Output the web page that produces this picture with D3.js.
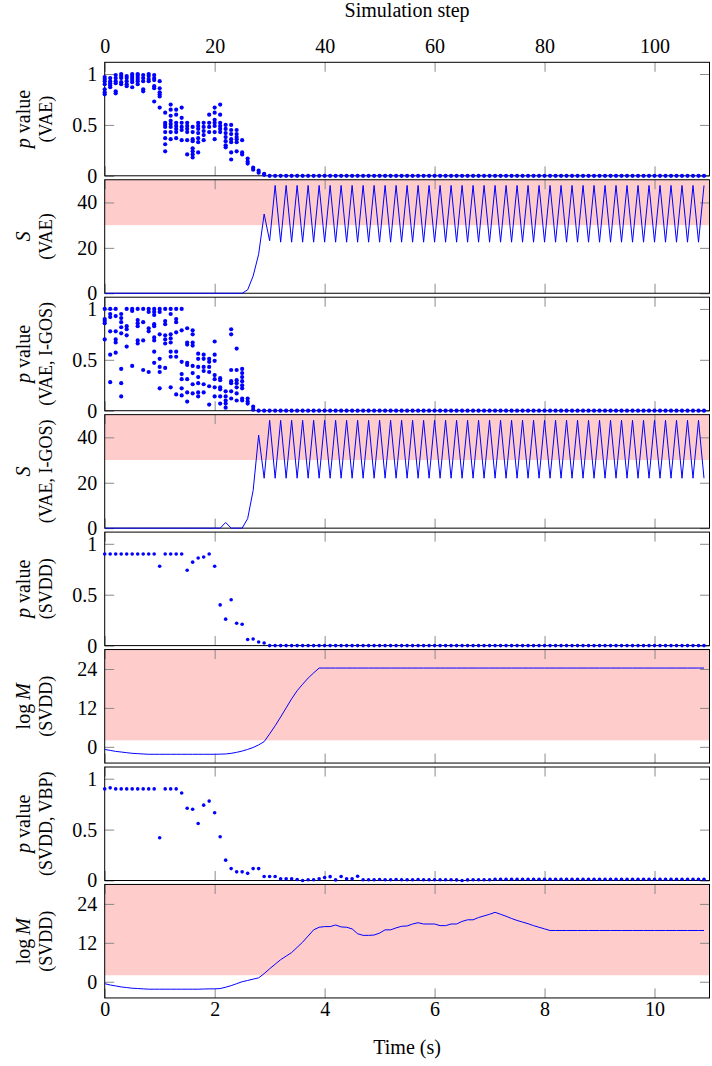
<!DOCTYPE html>
<html><head><meta charset="utf-8">
<script src="https://cdn.jsdelivr.net/npm/d3@7"></script>
<style>
body{margin:0;background:#fff}
svg{display:block}
text{font-family:"Liberation Serif","Times New Roman",serif;fill:#000}
</style>
</head><body>
<svg id="c" width="712" height="1066"></svg>
<script>
// ---------------- DATA ----------------
const stepTicks = [0, 20, 40, 60, 80, 100];
const timeTicks = [0, 2, 4, 6, 8, 10];
const pTicks = [0, 0.5, 1];
const sTicks = [0, 20, 40];
const mTicks = [0, 12, 24];

// p value (VAE): several samples per simulation step
const pVAE = [
 [0.97,0.95,0.93,0.90,0.85,0.82,0.80],[0.96,0.93,0.91,0.89,0.87],[0.99,0.96,0.93,0.91,0.83,0.81],
 [1.0,0.98,0.96,0.92,0.90],[0.98,0.96,0.93,0.90,0.88],[1.0,0.98,0.96,0.94,0.92,0.87],
 [1.0,0.99,0.97,0.95,0.93,0.90],[0.99,0.96,0.93,0.85,0.83],[1.0,0.98,0.95,0.93],
 [0.99,0.96,0.94,0.88,0.86,0.73],[0.93,0.86,0.82,0.80,0.78,0.67],
 [0.62,0.52,0.50,0.48,0.43,0.37,0.31,0.24],[0.70,0.65,0.59,0.54,0.51,0.48,0.43,0.36],
 [0.65,0.60,0.52,0.49,0.46,0.43,0.37],[0.67,0.57,0.52,0.48,0.45,0.35],
 [0.52,0.49,0.46,0.43,0.35,0.21],[0.48,0.43,0.36,0.34,0.27,0.24,0.21,0.18],
 [0.52,0.49,0.46,0.42,0.37,0.33,0.23],[0.52,0.48,0.44,0.40,0.35],[0.60,0.52,0.48,0.43],
 [0.67,0.62,0.55,0.52,0.49,0.43,0.36],[0.70,0.60,0.52,0.49,0.46,0.43],
 [0.50,0.46,0.42,0.38,0.34,0.30,0.28],[0.50,0.45,0.41,0.36,0.33,0.23,0.16],
 [0.45,0.41,0.38,0.36,0.33,0.24],[0.35,0.23,0.21],[0.17,0.14,0.12],[0.08,0.06],[0.05,0.03],[0.02,0.01],
 [0],[0],[0],[0],[0],[0],[0],[0],[0],[0],
 [0],[0],[0],[0],[0],[0],[0],[0],[0],[0],
 [0],[0],[0],[0],[0],[0],[0],[0],[0],[0],
 [0],[0],[0],[0],[0],[0],[0],[0],[0],[0],
 [0],[0],[0],[0],[0],[0],[0],[0],[0],[0],
 [0],[0],[0],[0],[0],[0],[0],[0],[0],[0],
 [0],[0],[0],[0],[0],[0],[0],[0],[0],[0],
 [0],[0],[0],[0],[0],[0],[0],[0],[0],[0]
];

// S (VAE)
const sVAE = [
 0,0,0,0,0,0,0,0,0,0,
 0,0,0,0,0,0,0,0,0,0,
 0,0,0,0,0,0,1.5,7.6,17.2,34.9,
 23.1,47.5,22.5,47.5,22.5,47.5,22.5,47.5,22.5,47.5,
 22.5,47.5,22.5,47.5,22.5,47.5,22.5,47.5,22.5,47.5,
 22.5,47.5,22.5,47.5,22.5,47.5,22.5,47.5,22.5,47.5,
 22.5,47.5,22.5,47.5,22.5,47.5,22.5,47.5,22.5,47.5,
 22.5,47.5,22.5,47.5,22.5,47.5,22.5,47.5,22.5,47.5,
 22.5,47.5,22.5,47.5,22.5,47.5,22.5,47.5,22.5,47.5,
 22.5,47.5,22.5,47.5,22.5,47.5,22.5,47.5,22.5,47.5,
 22.5,47.5,22.5,47.5,22.5,47.5,22.5,47.5,22.5,47.5
];

// p value (VAE, I-GOS)
const pVAEIGOS = [
 [1.0,0.90,0.88,0.86,0.70],[1.0,0.95,0.92,0.78,0.55,0.28],[1.0,0.93,0.78,0.70,0.67,0.57],
 [0.95,0.91,0.87,0.82,0.76,0.41,0.27,0.14],[1.0,0.83,0.80,0.74,0.63],[1.0,0.98,0.44],
 [1.0,0.89,0.86,0.83,0.69,0.66],[1.0,0.87,0.69,0.40],[1.0,0.97,0.81,0.78,0.38],
 [1.0,0.97,0.94,0.85,0.83,0.72,0.69,0.58,0.47],[1.0,0.97,0.75,0.51,0.43,0.38,0.22],
 [1.0,0.88,0.85,0.74,0.70,0.66,0.42],[1.0,0.95,0.75,0.71,0.67,0.58,0.53,0.23],
 [1.0,0.90,0.87,0.77,0.58,0.53,0.16],[1.0,0.79,0.48,0.36,0.31,0.22,0.15],
 [0.81,0.67,0.65,0.47,0.45,0.31,0.18,0.09],[0.79,0.75,0.67,0.64,0.44,0.37,0.26,0.17],
 [0.56,0.51,0.43,0.33,0.27,0.18,0.14],[0.55,0.51,0.43,0.39,0.26,0.18],
 [0.51,0.48,0.43,0.38,0.24,0.06],[0.68,0.55,0.49,0.35,0.31,0.23,0.14],
 [0.32,0.30,0.23,0.21,0.14,0.07],[0.19,0.14,0.10,0.07,0.03],
 [0.80,0.75,0.40,0.29,0.27,0.19,0.12],[0.61,0.40,0.30,0.27,0.23,0.17,0.10],
 [0.41,0.37,0.33,0.29,0.25,0.22,0.12,0.10],[0.12,0.09,0.07],[0.04,0.01],
 [0],[0],
 [0],[0],[0],[0],[0],[0],[0],[0],[0],[0],
 [0],[0],[0],[0],[0],[0],[0],[0],[0],[0],
 [0],[0],[0],[0],[0],[0],[0],[0],[0],[0],
 [0],[0],[0],[0],[0],[0],[0],[0],[0],[0],
 [0],[0],[0],[0],[0],[0],[0],[0],[0],[0],
 [0],[0],[0],[0],[0],[0],[0],[0],[0],[0],
 [0],[0],[0],[0],[0],[0],[0],[0],[0],[0],
 [0],[0],[0],[0],[0],[0],[0],[0],[0],[0]
];

// S (VAE, I-GOS)
const sVAEIGOS = [
 0,0,0,0,0,0,0,0,0,0,
 0,0,0,0,0,0,0,0,0,0,
 0,0,2.5,0,0,0,4.2,16.6,41,22,
 47.5,22,47.5,22,47.5,22,47.5,22,47.5,22,
 47.5,22,47.5,22,47.5,22,47.5,22,47.5,22,
 47.5,22,47.5,22,47.5,22,47.5,22,47.5,22,
 47.5,22,47.5,22,47.5,22,47.5,22,47.5,22,
 47.5,22,47.5,22,47.5,22,47.5,22,47.5,22,
 47.5,22,47.5,22,47.5,22,47.5,22,47.5,22,
 47.5,22,47.5,22,47.5,22,47.5,22,47.5,22,
 47.5,22,47.5,22,47.5,22,47.5,22,47.5,22
];

// p value (SVDD)
const pSVDD = [
 0.9,0.9,0.9,0.9,0.9,0.9,0.9,0.9,0.9,0.9,
 0.78,0.9,0.9,0.9,0.9,0.74,0.82,0.86,0.87,0.9,
 0.78,0.40,0.26,0.45,0.22,0.21,0.06,0.065,0.035,0.025,
 0,0,0,0,0,0,0,0,0,0,
 0,0,0,0,0,0,0,0,0,0,
 0,0,0,0,0,0,0,0,0,0,
 0,0,0,0,0,0,0,0,0,0,
 0,0,0,0,0,0,0,0,0,0,
 0,0,0,0,0,0,0,0,0,0,
 0,0,0,0,0,0,0,0,0,0,
 0,0,0,0,0,0,0,0,0,0
];

// log M (SVDD)
const logMSVDD = [
 -0.8,-1.1,-1.4,-1.6,-1.8,-2.0,-2.1,-2.2,-2.3,-2.3,
 -2.3,-2.3,-2.3,-2.3,-2.3,-2.3,-2.3,-2.3,-2.3,-2.3,
 -2.3,-2.25,-2.2,-2.0,-1.7,-1.3,-0.8,-0.2,0.6,1.6,
 4.0,6.5,9.2,12.0,14.8,17.3,19.3,21.2,22.8,24.3,
 24.3,24.3,24.3,24.3,24.3,24.3,24.3,24.3,24.3,24.3,
 24.3,24.3,24.3,24.3,24.3,24.3,24.3,24.3,24.3,24.3,
 24.3,24.3,24.3,24.3,24.3,24.3,24.3,24.3,24.3,24.3,
 24.3,24.3,24.3,24.3,24.3,24.3,24.3,24.3,24.3,24.3,
 24.3,24.3,24.3,24.3,24.3,24.3,24.3,24.3,24.3,24.3,
 24.3,24.3,24.3,24.3,24.3,24.3,24.3,24.3,24.3,24.3,
 24.3,24.3,24.3,24.3,24.3,24.3,24.3,24.3,24.3,24.3
];

// p value (SVDD, VBP)
const pVBP = [
 0.9,0.91,0.9,0.9,0.9,0.9,0.9,0.9,0.9,0.9,
 0.42,0.9,0.9,0.9,0.86,0.71,0.70,0.56,0.74,0.78,
 0.665,0.43,0.2,0.117,0.085,0.085,0.07,0.117,0.117,0.04,
 0.04,0.04,0.016,0.016,0.016,0.01,0,0.008,0.008,0.016,
 0.03,0.038,0.006,0.04,0.016,0.016,0.042,0.008,0.008,0.008,
 0.01,0.008,0.008,0.01,0.008,0.008,0.008,0.01,0.008,0.008,
 0.008,0.008,0.008,0.008,0.006,0,0.006,0.008,0.008,0.008,
 0.008,0.012,0.012,0.012,0.012,0.012,0.012,0.012,0.012,0.012,
 0.012,0.012,0.012,0.012,0.012,0.012,0.012,0.012,0.012,0.012,
 0.012,0.012,0.012,0.012,0.012,0.012,0.012,0.012,0.012,0.012,
 0.012,0.012,0.012,0.012,0.012,0.012,0.012,0.012,0.012,0.012
];

// log M (SVDD) for the VBP run
const logMVBP = [
 -0.6,-1.0,-1.3,-1.6,-1.8,-2.0,-2.1,-2.2,-2.3,-2.3,
 -2.3,-2.3,-2.3,-2.3,-2.3,-2.3,-2.3,-2.3,-2.25,-2.2,
 -2.2,-2.1,-1.7,-1.2,-0.6,0.0,0.4,0.8,1.2,2.5,
 4.0,5.4,6.8,7.9,9.0,10.6,12.2,14.1,16.0,16.8,
 17.0,17.0,17.5,16.9,16.8,16.3,14.8,14.3,14.3,14.4,
 15.0,16.0,16.0,16.6,17.1,17.2,17.8,18.2,17.8,17.8,
 17.8,17.3,17.3,17.8,17.8,18.6,19.1,19.1,19.8,20.3,
 20.8,21.4,20.8,20.2,19.5,18.9,18.4,17.9,17.3,16.8,
 16.3,15.8,15.8,15.8,15.8,15.8,15.8,15.8,15.8,15.8,
 15.8,15.8,15.8,15.8,15.8,15.8,15.8,15.8,15.8,15.8,
 15.8,15.8,15.8,15.8,15.8,15.8,15.8,15.8,15.8,15.8
];

// ---------------- DRAW ----------------
const BLUE = "#0000ff", PINK = "#ffcccc", TICK = "#8a8a8a";
const X0 = 104.7, X1 = 709.5;
const TOP0 = 62.3, STEP = 117.45, H = 113.5;

const svg = d3.select("#c");
const x = d3.scaleLinear().domain([0, 110]).range([X0, X1]);
const xt = d3.scaleLinear().domain([0, 11]).range([X0, X1]);
const fmt = d3.format("~g");

const panels = [
  {kind: "scatter", data: pVAE, dom: [0, 1.115], ticks: pTicks, l1: [["p", true], [" value", false]], l2: "(VAE)"},
  {kind: "line", data: sVAE, dom: [0, 50], ticks: sTicks, band: [30, 50], l1: [["S", true]], l2: "(VAE)"},
  {kind: "scatter", data: pVAEIGOS, dom: [0, 1.115], ticks: pTicks, l1: [["p", true], [" value", false]], l2: "(VAE, I-GOS)"},
  {kind: "line", data: sVAEIGOS, dom: [0, 50], ticks: sTicks, band: [30, 50], l1: [["S", true]], l2: "(VAE, I-GOS)"},
  {kind: "dots", data: pSVDD, dom: [0, 1.115], ticks: pTicks, l1: [["p", true], [" value", false]], l2: "(SVDD)"},
  {kind: "line", data: logMSVDD, dom: [-5, 30], ticks: mTicks, band: [2, 30], l1: [["log\u2009", false], ["M", true]], l2: "(SVDD)"},
  {kind: "dots", data: pVBP, dom: [0, 1.115], ticks: pTicks, l1: [["p", true], [" value", false]], l2: "(SVDD, VBP)"},
  {kind: "line", data: logMVBP, dom: [-5, 30], ticks: mTicks, band: [2, 30], l1: [["log\u2009", false], ["M", true]], l2: "(SVDD)"}
];

function styleAxis(sel, fs) {
  sel.attr("font-family", null).attr("font-size", null);
  sel.select(".domain").remove();
  sel.selectAll(".tick line").attr("stroke", TICK).attr("stroke-width", 1);
  sel.selectAll(".tick text").attr("fill", "#000").style("font-size", fs + "px");
}

panels.forEach((p, i) => {
  const top = TOP0 + i * STEP, bot = top + H;
  const y = d3.scaleLinear().domain(p.dom).range([bot, top]);
  const g = svg.append("g");
  const cid = "clip" + i;
  svg.append("clipPath").attr("id", cid).append("rect")
    .attr("x", X0).attr("y", top - 1).attr("width", X1 - X0).attr("height", H + 2);

  if (p.band) {
    g.append("rect").attr("x", X0).attr("width", X1 - X0)
      .attr("y", y(p.band[1])).attr("height", y(p.band[0]) - y(p.band[1]))
      .attr("fill", PINK);
  }

  // ticks
  const la = g.append("g").attr("transform", `translate(${X0},0)`)
    .call(d3.axisLeft(y).tickValues(p.ticks).tickSize(-9.5).tickPadding(7.5).tickFormat(fmt));
  styleAxis(la, 20);
  const ra = g.append("g").attr("transform", `translate(${X1},0)`)
    .call(d3.axisRight(y).tickValues(p.ticks).tickSize(-9.5).tickFormat(""));
  styleAxis(ra, 20);
  const ta = g.append("g").attr("transform", `translate(0,${top})`)
    .call(d3.axisTop(x).tickValues(stepTicks).tickSize(-9.5).tickPadding(9)
      .tickFormat(i === 0 ? fmt : () => ""));
  styleAxis(ta, 20);
  const ba = g.append("g").attr("transform", `translate(0,${bot})`)
    .call(d3.axisBottom(xt).tickValues(timeTicks).tickSize(-9.5).tickPadding(4.3)
      .tickFormat(i === panels.length - 1 ? fmt : () => ""));
  styleAxis(ba, 20);

  // frame
  g.append("rect").attr("x", X0).attr("y", top).attr("width", X1 - X0).attr("height", H)
    .attr("fill", "none").attr("stroke", "#000").attr("stroke-width", 1);

  if (p.kind === "line") {
    g.append("path").datum(p.data).attr("clip-path", `url(#${cid})`)
      .attr("fill", "none").attr("stroke", BLUE).attr("stroke-width", 1)
      .attr("d", d3.line().x((d, k) => x(k)).y(d => y(d)));
  } else if (p.kind === "scatter") {
    const pts = [];
    p.data.forEach((vals, k) => vals.forEach(v => pts.push([k, v])));
    g.selectAll("circle").data(pts).join("circle")
      .attr("cx", d => x(d[0])).attr("cy", d => y(d[1])).attr("r", 2.1).attr("fill", BLUE);
  } else {
    g.selectAll("circle").data(p.data).join("circle")
      .attr("cx", (d, k) => x(k)).attr("cy", d => y(d)).attr("r", 1.8).attr("fill", BLUE);
  }

  // y label
  const cy = (top + bot) / 2;
  const t1 = svg.append("text").attr("transform", `translate(30,${cy}) rotate(-90)`)
    .attr("text-anchor", "middle").style("font-size", "20px");
  p.l1.forEach(([s, it]) => t1.append("tspan").text(s).style("font-style", it ? "italic" : "normal"));
  svg.append("text").attr("transform", `translate(51.5,${cy}) rotate(-90)`)
    .attr("text-anchor", "middle").style("font-size", "18px").text(p.l2);
});

// axis titles
svg.append("text").attr("x", (X0 + X1) / 2).attr("y", 16.5).attr("text-anchor", "middle")
  .style("font-size", "20px").text("Simulation step");
svg.append("text").attr("x", (X0 + X1) / 2).attr("y", 1053.5).attr("text-anchor", "middle")
  .style("font-size", "20px").text("Time (s)");
</script>
</body></html>
